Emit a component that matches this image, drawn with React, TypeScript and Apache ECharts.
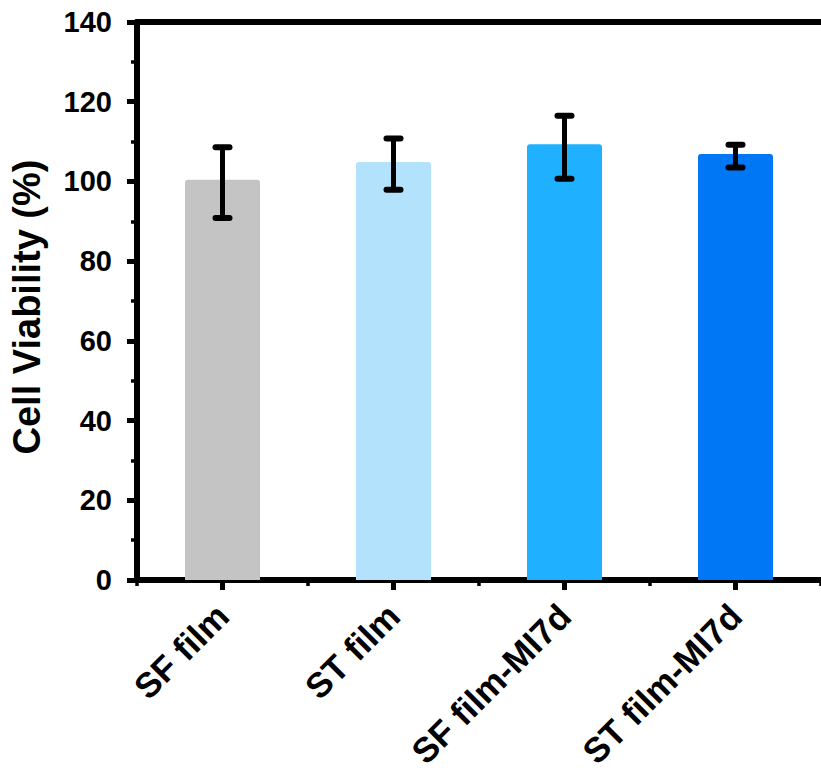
import React, { useEffect, useRef } from "react";
import * as echarts from "echarts";

const categories = ["SF film", "ST film", "SF film-MI7d", "ST film-MI7d"];
const means = [100.4, 104.9, 109.3, 106.9];
const errLow = [90.8, 97.9, 100.7, 103.5];
const errHigh = [108.6, 110.8, 116.5, 109.2];
const barColors = ["#c4c4c4", "#b3e3fc", "#1fb0ff", "#0078f5"];
const yTicks = { min: 0, max: 140, interval: 20 };

const FONT = "Liberation Sans";

export default function App() {
  const ref = useRef<HTMLDivElement>(null);
  useEffect(() => {
    if (!ref.current) return;
    const chart = echarts.init(ref.current, null, { renderer: "svg" });
    const errData = categories.map((_, i) => [i, errLow[i], errHigh[i]]);
    chart.setOption({
      animation: false,
      backgroundColor: "#ffffff",
      grid: { left: 133, right: -6, top: 22, bottom: 196, containLabel: false },
      xAxis: [
        {
          type: "category",
          data: categories,
          position: "bottom",
          axisLine: { show: true, onZero: false, lineStyle: { color: "#000", width: 6 } },
          axisTick: { show: true, alignWithLabel: true, length: 10, lineStyle: { color: "#000", width: 5 } },
          axisLabel: {
            show: true,
            interval: 0,
            rotate: 45,
            margin: 30,
            color: "#000",
            fontFamily: FONT,
            fontWeight: "bold",
            fontSize: 35,
          },
          splitLine: { show: false },
        },
        {
          type: "category",
          data: categories,
          position: "bottom",
          axisLine: { show: false },
          axisTick: { show: true, alignWithLabel: false, interval: 0, length: 6, lineStyle: { color: "#000", width: 3.5 } },
          axisLabel: { show: false },
          splitLine: { show: false },
        },
        {
          type: "category",
          data: categories,
          position: "top",
          axisLine: { show: true, onZero: false, lineStyle: { color: "#000", width: 6 } },
          axisTick: { show: false },
          axisLabel: { show: false },
          splitLine: { show: false },
        },
      ],
      yAxis: {
        type: "value",
        min: yTicks.min,
        max: yTicks.max,
        interval: yTicks.interval,
        name: "Cell Viability (%)",
        nameLocation: "middle",
        nameGap: 91,
        nameTextStyle: { color: "#000", fontFamily: FONT, fontWeight: "bold", fontSize: 38, padding: [0, 12, 0, 0] },
        axisLine: { show: true, onZero: false, lineStyle: { color: "#000", width: 6 } },
        axisTick: { show: true, length: 10, lineStyle: { color: "#000", width: 5 } },
        minorTick: { show: true, splitNumber: 2, length: 6, lineStyle: { color: "#000", width: 3.5 } },
        axisLabel: { color: "#000", fontFamily: FONT, fontWeight: "bold", fontSize: 29, margin: 25 },
        splitLine: { show: false },
      },
      series: [
        {
          type: "bar",
          xAxisIndex: 0,
          barWidth: 75,
          data: means.map((v, i) => ({ value: v, itemStyle: { color: barColors[i], borderRadius: [3, 3, 0, 0] } })),
          z: 2,
        },
        {
          type: "custom",
          xAxisIndex: 0,
          data: errData,
          encode: { x: 0, y: [1, 2] },
          z: 5,
          renderItem: (params: any, api: any) => {
            const idx = api.value(0);
            const lo = api.coord([idx, api.value(1)]);
            const hi = api.coord([idx, api.value(2)]);
            const half = 7;
            const style = { stroke: "#000", lineWidth: 5, lineCap: "round" };
            return {
              type: "group",
              children: [
                { type: "line", shape: { x1: hi[0], y1: hi[1], x2: lo[0], y2: lo[1] }, style },
                { type: "line", shape: { x1: hi[0] - half, y1: hi[1], x2: hi[0] + half, y2: hi[1] }, style: { ...style, lineWidth: 6 } },
                { type: "line", shape: { x1: lo[0] - half, y1: lo[1], x2: lo[0] + half, y2: lo[1] }, style: { ...style, lineWidth: 6 } },
              ],
            };
          },
        },
      ],
    });
    return () => chart.dispose();
  }, []);
  return <div ref={ref} style={{ position: "fixed", left: 0, top: 0, width: 821, height: 776 }} />;
}
